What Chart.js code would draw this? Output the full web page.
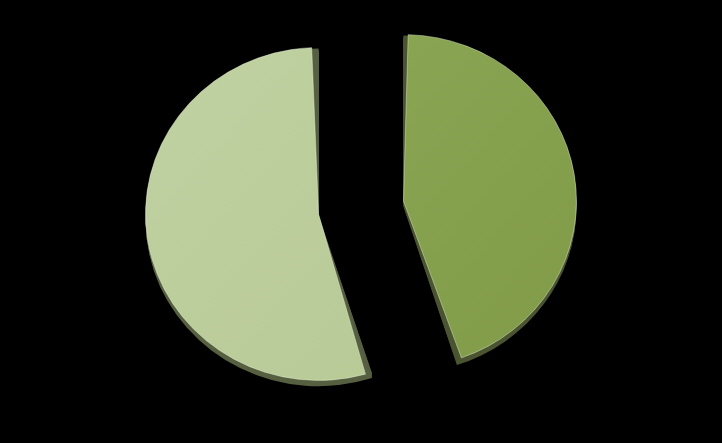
<!DOCTYPE html>
<html>
<head>
<meta charset="utf-8">
<script src="https://cdn.jsdelivr.net/npm/chart.js@4/dist/chart.umd.min.js"></script>
<style>
  html, body { margin: 0; padding: 0; background: #000; }
  #wrap { width: 722px; height: 443px; position: relative; }
</style>
</head>
<body>
<div id="wrap"><canvas id="c" width="722" height="443"></canvas></div>
<script>
const categories = ['Series A', 'Series B'];
const values = [45, 55];
const topColors = ['#8eaa58', '#c3d3a5'];
const bottomColors = ['#7f9946', '#b4c791'];
const sideColors = ['#4a5431', '#565f40'];

const squash = 0.962;
const explode = 43; // pixel displacement of each slice

function gradFill(ctx) {
  const chart = ctx.chart;
  const area = chart.chartArea;
  if (!area) return topColors[ctx.dataIndex];
  const g = chart.ctx.createLinearGradient(area.left + 120, area.top, area.right - 120, area.bottom);
  g.addColorStop(0, topColors[ctx.dataIndex]);
  g.addColorStop(1, bottomColors[ctx.dataIndex]);
  return g;
}

// Chart.js v4 arcs: translate by offset/4 and grow radius by offset/4*fix.
function arcFix(circ) { return 1 - Math.sin(Math.min(Math.PI, circ || 0)); }

const tiltPlugin = {
  id: 'tilt',
  afterDatasetsUpdate(chart) {
    // keep every exploded slice at the same radius
    chart.getDatasetMeta(0).data.forEach(el => {
      const o = (el.options.offset || 0) / 4;
      el.outerRadius = Math.max(el.outerRadius - o * arcFix(el.circumference), 0);
    });
  },
  beforeDatasetsDraw(chart) {
    const ctx = chart.ctx;
    const a = chart.chartArea;
    const cx = (a.left + a.right) / 2, cy = (a.top + a.bottom) / 2;
    ctx.save();
    ctx.translate(cx, cy);
    ctx.scale(1, squash);
    ctx.translate(-cx, -cy);
    // extrusion (side walls)
    chart.getDatasetMeta(0).data.forEach((el, i) => {
      const o = (el.options.offset || 0) / 4;
      const r = el.outerRadius + o * arcFix(el.circumference);
      const half = (el.startAngle + el.endAngle) / 2;
      const ox = el.x + Math.cos(half) * o;
      const oy = el.y + Math.sin(half) * o;
      ctx.fillStyle = sideColors[i];
      for (let k = 1; k <= 6; k++) {
        ctx.beginPath();
        ctx.moveTo(ox, oy + k);
        ctx.arc(ox, oy + k, r, el.startAngle, el.endAngle);
        ctx.closePath();
        ctx.fill();
      }
    });
  },
  afterDatasetsDraw(chart) {
    chart.ctx.restore();
  }
};

new Chart(document.getElementById('c'), {
  type: 'pie',
  data: {
    labels: categories,
    datasets: [{
      data: values,
      backgroundColor: gradFill,
      borderColor: 'rgba(235,245,220,0.45)',
      borderWidth: 1,
      offset: explode * 4
    }]
  },
  options: {
    responsive: false,
    animation: false,
    radius: 173,
    layout: { padding: { bottom: 28 } },
    plugins: {
      legend: { display: false },
      tooltip: { enabled: false }
    }
  },
  plugins: [tiltPlugin]
});
</script>
</body>
</html>
